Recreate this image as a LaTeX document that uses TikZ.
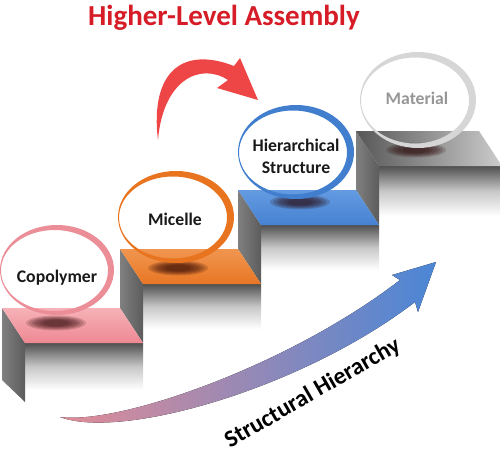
\documentclass[tikz,border=0pt]{standalone}
\usepackage{fontspec}
\setmainfont{Carlito}
\definecolor{titlered}{RGB}{214,28,38}
\definecolor{arrowred}{RGB}{238,70,70}
\definecolor{pinkring}{RGB}{236,142,152}
\definecolor{pinkback}{RGB}{246,178,184}
\definecolor{pinkfront}{RGB}{238,136,146}
\definecolor{orangering}{RGB}{232,116,32}
\definecolor{orangeback}{RGB}{240,150,80}
\definecolor{orangefront}{RGB}{232,118,36}
\definecolor{bluering}{RGB}{66,126,206}
\definecolor{blueback}{RGB}{100,155,225}
\definecolor{bluefront}{RGB}{70,130,210}
\definecolor{grayring}{RGB}{214,214,214}
\definecolor{sidelight}{RGB}{128,128,128}
\definecolor{sidedark}{RGB}{92,92,92}
\definecolor{frontgray}{RGB}{80,80,80}
\definecolor{arrowpink}{RGB}{226,140,150}
\definecolor{arrowblue}{RGB}{74,134,214}
\definecolor{labelblack}{RGB}{25,25,25}
\definecolor{labelgray}{RGB}{150,150,150}
\tikzset{
  lbl/.style={anchor=base, text=labelblack, inner sep=0pt,
    font=\bfseries\fontsize{17.7}{20}\selectfont},
  sideface/.style={left color=sidelight, right color=sidedark},
  frontface/.style={top color=frontgray, bottom color=white, middle color=black!22},
  shadowblob/.style={fill=black!85!red, opacity=0.16},
}
\newcommand\blobshadow[2]{%
  \fill[shadowblob] (#1,#2) ellipse [x radius=30, y radius=7.5];
  \fill[shadowblob] (#1,#2) ellipse [x radius=27, y radius=6.5];
  \fill[shadowblob] (#1,#2) ellipse [x radius=24, y radius=5.6];
  \fill[shadowblob] (#1,#2) ellipse [x radius=21, y radius=4.8];
  \fill[shadowblob] (#1,#2) ellipse [x radius=17, y radius=4];
  \fill[shadowblob] (#1,#2) ellipse [x radius=13, y radius=3.2];
}
\begin{document}
\begin{tikzpicture}[x=1pt,y=-1pt]
\useasboundingbox (0,0) rectangle (500,455);

% ---------- step 4 (Material) ----------
\begin{scope}[shift={(356,131)}]
  \shade[frontface] (23,35) rectangle (146,85);
  \shade[sideface] (0,0) -- (23,35) -- (23,94) -- (0,59) -- cycle;
  \shade[left color=black!66, right color=black!20] (0,0) -- (123,0) -- (146,35) -- (23,35) -- cycle;
\end{scope}
% ---------- step 3 (Hierarchical) ----------
\begin{scope}[shift={(238,190)}]
  \shade[frontface] (23,35) rectangle (141,80);
  \shade[sideface] (0,0) -- (23,35) -- (23,94) -- (0,59) -- cycle;
  \shade[top color=blueback, bottom color=bluefront] (0,0) -- (118,0) -- (141,35) -- (23,35) -- cycle;
\end{scope}
% ---------- step 2 (Micelle) ----------
\begin{scope}[shift={(120,249)}]
  \shade[frontface] (23,35) rectangle (141,80);
  \shade[sideface] (0,0) -- (23,35) -- (23,94) -- (0,59) -- cycle;
  \shade[top color=orangeback, bottom color=orangefront] (0,0) -- (118,0) -- (141,35) -- (23,35) -- cycle;
\end{scope}
% ---------- step 1 (Copolymer) ----------
\begin{scope}[shift={(2,308)}]
  \shade[frontface] (23,35) rectangle (141,82);
  \shade[sideface] (0,0) -- (23,35) -- (23,94) -- (0,72) -- cycle;
  \shade[top color=pinkback, bottom color=pinkfront] (0,0) -- (118,0) -- (141,35) -- (23,35) -- cycle;
\end{scope}

% ---------- shadows under the bubbles ----------
\blobshadow{56}{323}
\blobshadow{178}{268}
\blobshadow{300}{202}
\blobshadow{416}{150}

% ---------- bubbles ----------
\fill[pinkring, even odd rule] (57,270) ellipse [x radius=57, y radius=45]
  (54.5,270.5) ellipse [x radius=53.5, y radius=40.5];
\fill[orangering, even odd rule] (176,217) ellipse [x radius=58, y radius=46]
  (173,217.5) ellipse [x radius=54, y radius=41];
\fill[bluering, even odd rule] (296,152) ellipse [x radius=58, y radius=47]
  (293,152.5) ellipse [x radius=54, y radius=42];
\fill[grayring, even odd rule] (418,100) ellipse [x radius=58, y radius=48]
  (415,100.5) ellipse [x radius=54, y radius=43];

% ---------- labels ----------
\node[lbl] (copolymer) at (57,282) {Copolymer};
\node[lbl] (micelle) at (175,225) {Micelle};
\node[lbl] (hier) at (296,151) {Hierarchical};
\node[lbl] (struct) at (296,173) {Structure};
\node[lbl, text=labelgray] (material) at (417,104) {Material};

% ---------- title ----------
\node[anchor=base, text=titlered, inner sep=0pt,
  font=\bfseries\fontsize{29}{32}\selectfont] (title) at (224,25) {Higher-Level Assembly};

% ---------- red curved arrow ----------
\fill[arrowred] (158,140) .. controls (150,75) and (180,45) .. (234,66)
  -- (240,58) -- (258,100) -- (217,88) -- (228,80)
  .. controls (200,62) and (163,80) .. (158,140) -- cycle;

% ---------- structural hierarchy arrow ----------
\fill[left color=arrowpink, right color=arrowblue]
  (60,417) .. controls (120,440) and (300,390) .. (415,302)
  -- (418,312) -- (436,262) -- (392,275) -- (400,280)
  .. controls (290,365) and (120,425) .. (60,417) -- cycle;
\node[anchor=base, rotate=30, text=black, inner sep=0pt,
  font=\bfseries\fontsize{24}{26}\selectfont] (hierlabel) at (316,399) {Structural Hierarchy};
\end{tikzpicture}
\end{document}
